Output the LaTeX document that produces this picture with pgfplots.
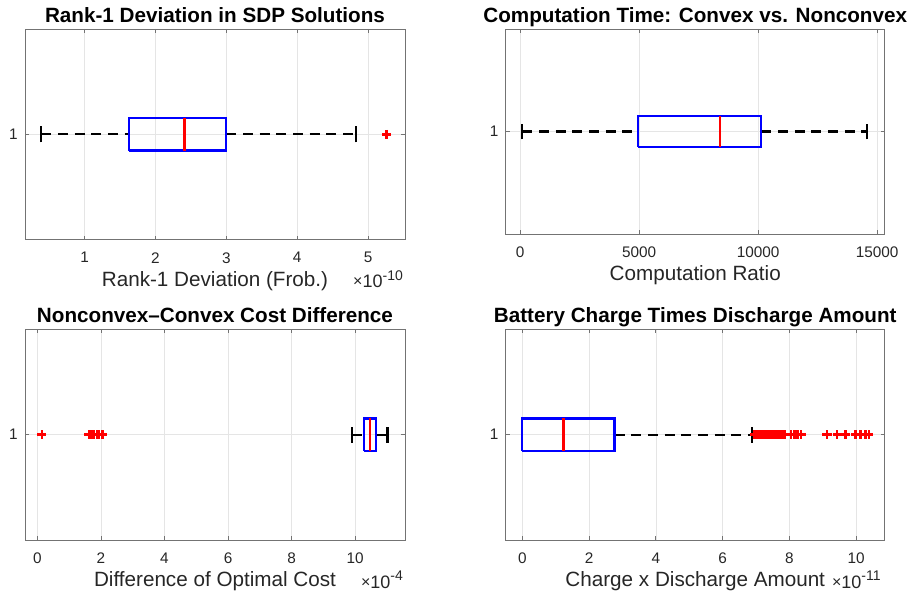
\documentclass[border=0pt]{standalone}
\usepackage{fontspec}
\setmainfont{Liberation Sans}
\usepackage{pgfplots}
\pgfplotsset{compat=1.18}

\definecolor{mblue}{RGB}{0,0,255}
\definecolor{mred}{RGB}{255,0,0}

\tikzset{
  expo/.style={anchor=base east, yshift=-36pt, font=\fontsize{13.5}{15}\selectfont, text=black!85, inner sep=0pt},
}
\newcommand{\expolab}[1]{\raisebox{0.5pt}{\fontsize{12}{13}\selectfont ×}10\raisebox{5.5pt}{\fontsize{10.5}{12}\selectfont #1}}

\pgfplotsset{
  mbox/.style={
    scale only axis, anchor=north west, clip mode=individual,
    ymin=0.5, ymax=1.5, ytick={1},
    xmajorgrids, ymajorgrids,
    grid style={black!10, line width=0.5pt},
    axis line style={black!55, line width=0.6pt},
    tick align=inside, major tick length=3pt,
    tick style={black!55, line width=0.6pt},
    tick label style={font=\fontsize{11.5}{13}\selectfont, text=black!85},
    xticklabel style={yshift=-6pt},
    yticklabel style={xshift=-2pt},
    /pgf/number format/assume math mode=true,
    /pgf/number format/1000 sep={},
    scaled x ticks=false,
    xlabel style={font=\fontsize{15.5}{17}\selectfont, text=black!85,
      at={(axis description cs:0.5,0)}, anchor=base, yshift=-35pt},
    title style={font=\bfseries\fontsize{15.5}{17}\selectfont,
      at={(axis description cs:0.5,1)}, anchor=base, yshift=-1pt},
  },
  whisk/.style={black, line width=1.6pt, dash pattern=on 7.5pt off 5pt},
  cap/.style={black, line width=1.6pt},
  bx/.style={mblue, line width=1.6pt, line join=miter},
  med/.style={mred, line width=1.6pt},
  outl/.style={only marks, mark=+, mark size=3.4pt, mred, mark options={line width=1.8pt}},
}

\begin{document}
\begin{tikzpicture}
\useasboundingbox (0,0) rectangle (680.25pt,-449.25pt);

% top left
\begin{axis}[mbox, at={(18.75pt,-21.75pt)}, width=285pt, height=158pt,
  xmin=0.16, xmax=5.52, xtick={1,2,3,4,5},
  title={Rank-1 Deviation in SDP Solutions},
  xlabel={Rank-1 Deviation (Frob.)}]
  \addplot[whisk] coordinates {(0.39,1) (1.63,1)};
  \addplot[whisk] coordinates {(3.00,1) (4.83,1)};
  \addplot[cap] coordinates {(0.39,0.962) (0.39,1.038)};
  \addplot[cap] coordinates {(4.83,0.962) (4.83,1.038)};
  \addplot[bx] coordinates {(1.63,0.923) (3.00,0.923) (3.00,1.077) (1.63,1.077) (1.63,0.923)};
  \addplot[med] coordinates {(2.41,0.923) (2.41,1.077)};
  \addplot[outl] coordinates {(5.26,1)};
  \node[expo] at (rel axis cs:0.995,0) {\expolab{-10}};
\end{axis}

% top right
\begin{axis}[mbox, at={(379.3pt,-21.75pt)}, width=284.25pt, height=153.75pt,
  xmin=-600, xmax=15320, xtick={0,5000,10000,15000},
  title={Computation Time: Convex vs. Nonconvex},
  xlabel={Computation Ratio}]
  \addplot[whisk] coordinates {(100,1) (4950,1)};
  \addplot[whisk] coordinates {(10130,1) (14590,1)};
  \addplot[cap] coordinates {(100,0.962) (100,1.038)};
  \addplot[cap] coordinates {(14590,0.962) (14590,1.038)};
  \addplot[bx] coordinates {(4950,0.925) (10130,0.925) (10130,1.075) (4950,1.075) (4950,0.925)};
  \addplot[med] coordinates {(8400,0.925) (8400,1.075)};
\end{axis}

% bottom left
\begin{axis}[mbox, at={(18.75pt,-247pt)}, width=285pt, height=158pt,
  xmin=-0.39, xmax=11.57, xtick={0,2,4,6,8,10},
  title={Nonconvex--Convex Cost Difference},
  xlabel={Difference of Optimal Cost}]
  \addplot[whisk] coordinates {(9.89,1) (10.28,1)};
  \addplot[whisk] coordinates {(10.67,1) (11.02,1)};
  \addplot[cap] coordinates {(9.89,0.962) (9.89,1.038)};
  \addplot[cap] coordinates {(11.02,0.962) (11.02,1.038)};
  \addplot[bx] coordinates {(10.28,0.923) (10.67,0.923) (10.67,1.077) (10.28,1.077) (10.28,0.923)};
  \addplot[med] coordinates {(10.48,0.923) (10.48,1.077)};
  \addplot[outl] coordinates {(0.14,1) (1.62,1) (1.66,1) (1.70,1) (1.74,1) (1.78,1)
    (1.88,1) (1.92,1) (2.05,1)};
  \node[expo] at (rel axis cs:0.995,0) {\expolab{-4}};
\end{axis}

% bottom right
\begin{axis}[mbox, at={(379.3pt,-247pt)}, width=284.25pt, height=158pt,
  xmin=-0.5, xmax=10.86, xtick={0,2,4,6,8,10},
  title={Battery Charge Times Discharge Amount},
  xlabel={Charge x Discharge Amount}]
  \addplot[whisk] coordinates {(2.76,1) (6.88,1)};
  \addplot[cap] coordinates {(0,0.962) (0,1.038)};
  \addplot[cap] coordinates {(6.88,0.962) (6.88,1.038)};
  \addplot[bx] coordinates {(0,0.923) (2.76,0.923) (2.76,1.077) (0,1.077) (0,0.923)};
  \addplot[med] coordinates {(1.23,0.923) (1.23,1.077)};
  \addplot[outl] coordinates {(6.95,1) (7.00,1) (7.04,1) (7.08,1) (7.12,1) (7.16,1)
    (7.20,1) (7.25,1) (7.30,1) (7.35,1) (7.40,1) (7.45,1) (7.50,1) (7.55,1)
    (7.60,1) (7.65,1) (7.70,1) (7.78,1) (7.85,1) (8.05,1) (8.15,1) (8.25,1)
    (8.35,1) (9.13,1) (9.43,1) (9.68,1) (9.98,1) (10.13,1) (10.28,1) (10.38,1)};
  \node[expo] at (rel axis cs:0.99,0) {\expolab{-11}};
\end{axis}
\end{tikzpicture}
\end{document}
